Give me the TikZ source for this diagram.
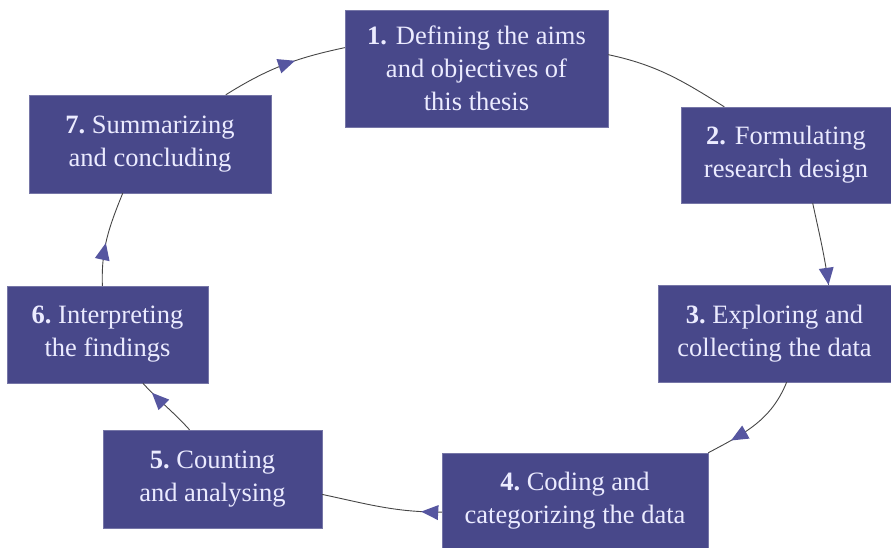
\documentclass[tikz,border=0pt]{standalone}
\usepackage{fontspec}
\setmainfont{Liberation Serif}
\usetikzlibrary{arrows.meta, positioning, decorations.markings}
\definecolor{boxblue}{RGB}{72,72,138}
\definecolor{tipblue}{RGB}{86,86,160}
\definecolor{linegray}{RGB}{70,70,70}

\begin{document}
\begin{tikzpicture}[x=1pt, y=-1pt,
    stagebox/.style={fill=boxblue, draw=boxblue!75!white, thin, text=white!92!blue,
        align=center, inner sep=0pt, font=\fontsize{26.5}{33}\selectfont},
    flow/.style={draw=linegray, line width=0.9pt, postaction={decorate},
        decoration={markings, mark=at position #1 with
            {\fill[tipblue] (0pt,0pt) -- (-17pt,7.5pt) -- (-17pt,-7.5pt) -- cycle;}}},
    plain/.style={draw=linegray, line width=0.9pt}]
    \useasboundingbox (0,0) rectangle (891,548);

    % the seven stages
    \node[stagebox, minimum width=263pt, minimum height=117pt] (s1) at (476.5,68.5)
        {\textbf{1.} Defining the aims\\and objectives of\\this thesis};
    \node[stagebox, minimum width=210pt, minimum height=96pt] (s2) at (786,155)
        {\textbf{2.} Formulating\\research design};
    \node[stagebox, minimum width=233pt, minimum height=97pt] (s3) at (774.5,333.5)
        {\textbf{3.}\ Exploring and\\collecting the data};
    \node[stagebox, minimum width=266pt, minimum height=95pt] (s4) at (575,500.5)
        {\textbf{4.}\ Coding and\\categorizing the data};
    \node[stagebox, minimum width=219pt, minimum height=98pt] (s5) at (212.5,479)
        {\textbf{5.}\ Counting\\and analysing};
    \node[stagebox, minimum width=201pt, minimum height=97pt] (s6) at (107.5,334.5)
        {\textbf{6.}\ Interpreting\\the findings};
    \node[stagebox, minimum width=242pt, minimum height=98pt] (s7) at (150,144)
        {\textbf{7.}\ Summarizing\\and concluding};

    % connectors round the cycle
    \draw[plain] (s1.6) to[out=-12, in=148] (s2.142);
    \draw[flow=1] (s2.-61) to[out=-78, in=98] (s3.42);
    \draw[flow=0.76] (s3.-76) to[out=-112, in=28] (s4.north east);
    \draw[flow=0.17] (s4.185) to[out=180, in=-12] (s5.-8);
    \draw[flow=0.8] (s5.115) to[out=132, in=-48] (s6.-54);
    \draw[flow=0.45] (s6.96) to[out=92, in=-112] (s7.-119);
    \draw[flow=0.6] (s7.33) to[out=32, in=192] (s1.171);
\end{tikzpicture}
\end{document}
